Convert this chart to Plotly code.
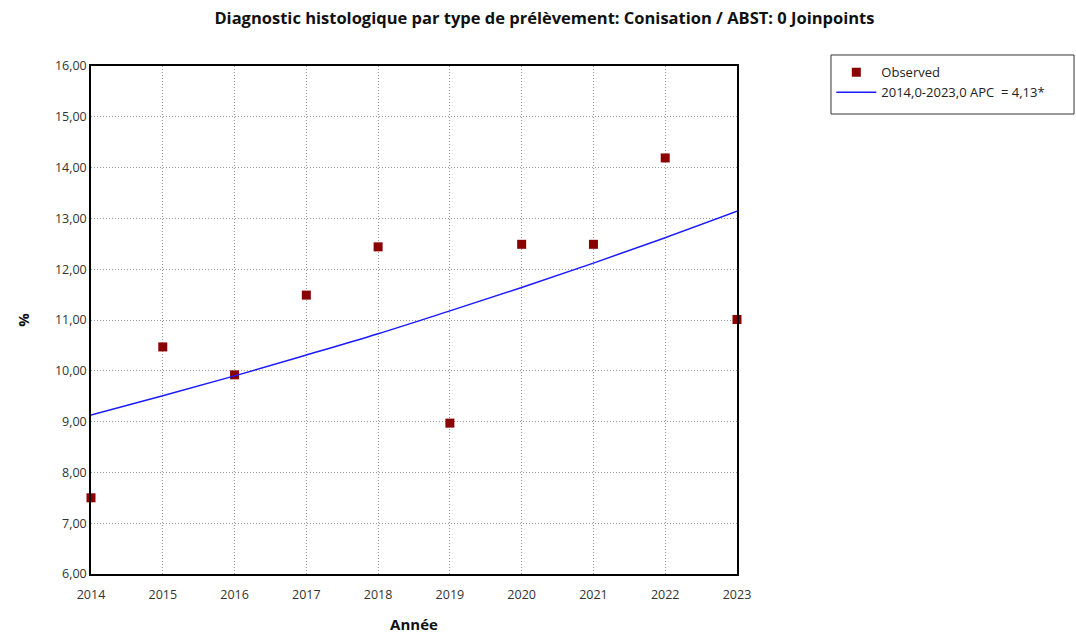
import plotly.graph_objects as go

# Observed percentages by year
years = [2014, 2015, 2016, 2017, 2018, 2019, 2020, 2021, 2022, 2023]
observed = [7.50, 10.47, 9.92, 11.49, 12.44, 8.97, 12.49, 12.49, 14.19, 11.01]

# Joinpoint model (0 joinpoints): modelled values per year
modelled = [9.13, 9.51, 9.90, 10.31, 10.73, 11.18, 11.64, 12.12, 12.62, 13.14]
segment_label = "2014,0-2023,0 APC  = 4,13*"

y_ticks = [6, 7, 8, 9, 10, 11, 12, 13, 14, 15, 16]

FONT = "Open Sans"

fig = go.Figure()
fig.add_trace(go.Scatter(
    x=years, y=observed, mode="markers", name="Observed",
    marker=dict(symbol="square", size=9, color="#8b0000"),
    cliponaxis=False,
))
fig.add_trace(go.Scatter(
    x=years, y=modelled, mode="lines", name=segment_label,
    line=dict(color="#1a1aff", width=1.5, shape="spline"),
))

# Legend frame
fig.add_shape(
    type="rect", xref="paper", yref="paper",
    x0=1.1455, x1=1.5217, y0=0.9055, y1=1.0217,
    line=dict(color="#333", width=1), fillcolor="rgba(0,0,0,0)",
)

fig.update_layout(
    width=1076, height=639,
    margin=dict(l=91, r=339, t=66, b=65, autoexpand=False),
    paper_bgcolor="white", plot_bgcolor="white",
    separators=", ",
    font=dict(family=FONT, size=12, color="#222"),
    title=dict(
        text="<b>Diagnostic histologique par type de prélèvement: Conisation / ABST: 0 Joinpoints</b>",
        x=0.506, xref="container", xanchor="center", y=0.972, yanchor="middle",
        font=dict(family=FONT, size=16.5, color="#111"),
    ),
    showlegend=True,
    legend=dict(
        x=1.146, y=1.017, xanchor="left", yanchor="top",
        borderwidth=0, bgcolor="rgba(0,0,0,0)",
        font=dict(family=FONT, size=13, color="#222"),
        itemwidth=40, tracegroupgap=0,
    ),
)

grid_dash = "1px,2px"

fig.update_xaxes(
    range=[2014, 2023], tickmode="array", tickvals=years,
    ticktext=[str(y) for y in years], automargin=False,
    showgrid=True, gridcolor="#999", griddash=grid_dash, gridwidth=1,
    showline=True, linecolor="black", linewidth=1.5, mirror=True,
    ticks="outside", ticklen=8, tickcolor="rgba(0,0,0,0)", zeroline=False,
    title=dict(text="<b>Année</b>", font=dict(family=FONT, size=15, color="#111"), standoff=18),
    tickfont=dict(size=12.5, color="#333"),
)
fig.update_yaxes(
    range=[6, 16], tickmode="array", tickvals=y_ticks, tickformat=".2f",
    automargin=False,
    showgrid=True, gridcolor="#999", griddash=grid_dash, gridwidth=1,
    showline=True, linecolor="black", linewidth=1.5, mirror=True,
    ticks="", zeroline=False,
    title=dict(text="<b>%</b>", font=dict(family=FONT, size=15, color="#111"), standoff=22),
    tickfont=dict(size=12.5, color="#333"),
)

fig.write_html("out.html")
